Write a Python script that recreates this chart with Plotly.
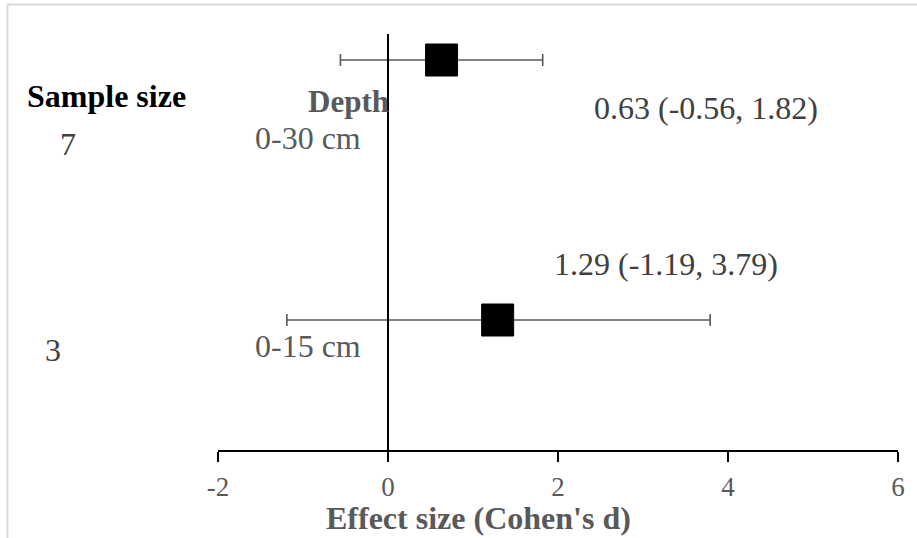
import plotly.graph_objects as go

# ---- data ----
depths = ["0-30 cm", "0-15 cm"]
sample_sizes = [7, 3]
effects = [0.63, 1.29]
lower_ci = [-0.56, -1.19]
upper_ci = [1.82, 3.79]
row_y = [7.5, 2.5]
x_ticks = [-2, 0, 2, 4, 6]

W, H = 917, 538
# plot area in page pixels: x 218..898, y 34..450
L, T = 218, 34
PW, PH = 680, 416
R = W - L - PW
B = H - T - PH
XR = [-2, 6]
YR = [0, 8]

def px(xp):  # page pixel -> paper x
    return (xp - L) / PW

def py(yp):  # page pixel -> paper y
    return (T + PH - yp) / PH

SERIF = "Liberation Serif, Times New Roman, serif"

fig = go.Figure()
fig.add_trace(go.Scatter(
    x=effects, y=row_y, mode="markers",
    marker=dict(symbol="square", size=32, color="black",
                line=dict(color="black", width=1)),
    error_x=dict(type="data", symmetric=False,
                 array=[u - e for u, e in zip(upper_ci, effects)],
                 arrayminus=[e - l for e, l in zip(effects, lower_ci)],
                 color="#595959", thickness=1.6, width=6),
    showlegend=False, hoverinfo="skip",
))

ann = []
# headers
ann.append(dict(text="<b>Sample size</b>", x=px(106.5), y=py(96), font=dict(size=32, color="black")))
ann.append(dict(text="<b>Depth</b>", x=px(348), y=py(101), font=dict(size=31, color="#595959")))
# rows
size_pos = [(68, 144), (53, 350)]
depth_pos = [(308, 138), (308, 345.5)]
label_pos = [(706, 107.5), (665.5, 264)]
for i in range(len(effects)):
    ann.append(dict(text=str(sample_sizes[i]), x=px(size_pos[i][0]), y=py(size_pos[i][1]),
                    font=dict(size=32, color="#404040")))
    ann.append(dict(text=depths[i], x=px(depth_pos[i][0]), y=py(depth_pos[i][1]),
                    font=dict(size=32, color="#595959")))
    ann.append(dict(text=f"{effects[i]:.2f} ({lower_ci[i]:.2f}, {upper_ci[i]:.2f})",
                    x=px(label_pos[i][0]), y=py(label_pos[i][1]),
                    font=dict(size=32, color="#404040")))
ann.append(dict(text="<b>Effect size (Cohen's d)</b>", x=px(478), y=py(517.5),
                font=dict(size=32, color="#595959")))
for a in ann:
    a.update(xref="paper", yref="paper", showarrow=False, xanchor="center", yanchor="middle")
    a["font"]["family"] = SERIF

fig.update_layout(
    width=W, height=H,
    margin=dict(l=L, r=R, t=T, b=B, pad=0),
    paper_bgcolor="white", plot_bgcolor="white",
    font=dict(family=SERIF),
    annotations=ann,
    shapes=[dict(type="rect", xref="paper", yref="paper",
                 x0=px(7.5), x1=px(W + 20), y0=py(H + 20), y1=py(4.5),
                 line=dict(color="#d9d9d9", width=2), layer="above")],
    xaxis=dict(range=XR, tickvals=x_ticks, ticktext=[str(t) for t in x_ticks],
               showgrid=False, zeroline=False, showline=True, linecolor="black",
               linewidth=2, ticks="outside", ticklen=10, tickwidth=2, tickcolor="black",
               ticklabelstandoff=2,
               tickfont=dict(size=27, color="#595959", family=SERIF)),
    yaxis=dict(range=YR, showgrid=False, zeroline=False, showticklabels=False,
               showline=True, linecolor="black", linewidth=2, ticks="",
               anchor="free", position=px(388)),
)

fig.write_html("out.html", config={"displayModeBar": False, "staticPlot": True},
               post_script="document.body.style.margin='0';document.body.style.overflow='hidden';")
